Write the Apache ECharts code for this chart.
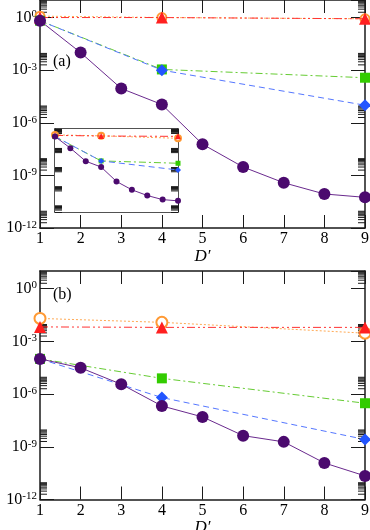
<!DOCTYPE html>
<html>
<head>
<meta charset="utf-8">
<script src="https://cdn.jsdelivr.net/npm/echarts@6/dist/echarts.min.js"></script>
<style>
html, body { margin: 0; padding: 0; background: #fff; }
#echarts { width: 370px; height: 530px; }
</style>
</head>
<body>
<div id="echarts"></div>
<script>
var dims = [1, 2, 3, 4, 5, 6, 7, 8, 9];
var dimsSparse = [1, 4, 9];
var xTicks = ['1', '2', '3', '4', '5', '6', '7', '8', '9'];
var yTickExps = [-12, -9, -6, -3, 0];

// panel (a)
var aPurple = [0.66, 1.0e-2, 9e-5, 1.1e-5, 6e-8, 3e-9, 3.8e-10, 8.7e-11, 5.6e-11];
var aRed = [1.0, 1.0, 0.85];
var aOrange = [1.2, 1.0, 0.85];
var aGreen = [0.66, 1.1e-3, 3.7e-4];
var aBlue = [0.66, 1.0e-3, 1.0e-5];

// inset of panel (a)
var iRed = [1.0, 0.8, 0.7];
var iOrange = [1.2, 0.85, 0.35];
var iGreen = [0.66, 1.0e-4, 4.3e-5];
var iBlue = [0.66, 1.0e-4, 3.8e-6];

// panel (b)
var bPurple = [1e-4, 3.1e-5, 3.6e-6, 2.1e-7, 5e-8, 4.3e-9, 1.9e-9, 1.2e-10, 2.2e-11];
var bRed = [6.6e-3, 6.2e-3, 6.2e-3];
var bOrange = [2e-2, 1.2e-2, 2.9e-3];
var bGreen = [1e-4, 7.8e-6, 3e-7];
var bBlue = [1e-4, 6.3e-7, 2.6e-9];

var serif = 'Liberation Serif';
var ink = '#1a1a1a';

var myChart = echarts.init(document.getElementById('echarts'), null, {renderer: 'canvas'});

function pairs(xs, ys) {
    return xs.map(function (x, i) { return [x, ys[i]]; });
}

// minor ticks 2..9 x 10^k above each labelled decade
var minorVals = [];
yTickExps.forEach(function (e) {
    for (var m = 2; m <= 9; m++) {
        minorVals.push([1, m * Math.pow(10, e)]);
    }
});

function xAxisFor(grid, pos, opts) {
    return {
        type: 'value', gridIndex: grid, position: pos, min: 1, max: 9, interval: 1,
        axisLine: {show: true, onZero: false, lineStyle: {color: ink, width: 1.5}},
        axisTick: {show: true, inside: true, length: opts.tick, lineStyle: {color: ink, width: 1}},
        splitLine: {show: false},
        axisLabel: opts.label ? {
            margin: 3, fontFamily: serif, fontSize: 16, color: '#000',
            formatter: function (v) { return xTicks[Math.round(v) - 1]; }
        } : {show: false},
        name: opts.name || '', nameLocation: 'middle', nameGap: opts.nameGap || 20,
        nameTextStyle: {fontFamily: serif, fontStyle: 'italic', fontSize: 17, color: '#000'}
    };
}

function yAxisFor(grid, pos, opts) {
    return {
        type: 'log', logBase: 1000, gridIndex: grid, position: pos, min: 1e-12, max: 10,
        axisLine: {show: true, onZero: false, lineStyle: {color: ink, width: 1.5}},
        axisTick: {show: true, inside: true, length: opts.tick, lineStyle: {color: ink, width: 1}},
        splitLine: {show: false},
        minorTick: {show: false},
        axisLabel: opts.label ? {
            margin: 3, showMaxLabel: false,
            formatter: function (v, i) {
                var e = v > 0 ? Math.round(Math.log(v) / Math.LN10) : yTickExps[i];
                if (yTickExps.indexOf(e) < 0) return '';
                return '{b|10}{s|' + e + '}';
            },
            rich: {
                b: {fontFamily: serif, fontSize: 16, color: '#000', lineHeight: 17},
                s: {fontFamily: serif, fontSize: 11, color: '#000', lineHeight: 17, verticalAlign: 'top'}
            }
        } : {show: false},
        name: opts.label ? '{e|ϵ}{n|N}' : '',
        nameLocation: 'middle', nameGap: 32, nameRotate: 90,
        nameTextStyle: {
            rich: {
                e: {fontFamily: serif, fontStyle: 'italic', fontSize: 17, color: '#000', lineHeight: 18},
                n: {fontFamily: serif, fontStyle: 'italic', fontSize: 10, color: '#000', lineHeight: 18, verticalAlign: 'bottom'}
            }
        }
    };
}

var styles = {
    purple: {color: '#4b0a6e', line: '#6a2a8e', symbol: 'circle', dash: 'solid', z: 10, size: 12},
    red: {color: '#ff2020', line: '#ff3333', symbol: 'triangle', dash: [8, 3, 2, 3, 2, 3], z: 4, size: 12},
    orange: {color: '#ff9933', line: '#ffaa55', symbol: 'emptyCircle', dash: [2, 2], z: 3, size: 11},
    green: {color: '#33cc00', line: '#66cc33', symbol: 'rect', dash: [7, 3, 2, 3], z: 5, size: 10},
    blue: {color: '#2255ff', line: '#5577ff', symbol: 'diamond', dash: [6, 4], z: 6, size: 12}
};

function lineSeries(key, xs, ys, axisBase, scale) {
    var s = styles[key];
    var k = scale || 1;
    return {
        type: 'line', xAxisIndex: axisBase, yAxisIndex: axisBase,
        data: pairs(xs, ys), clip: false, animation: false, z: s.z + (k < 0.7 ? 30 : 0),
        symbol: s.symbol, symbolSize: Math.round(s.size * k),
        itemStyle: {color: s.color, borderColor: s.color, borderWidth: s.symbol === 'emptyCircle' ? 1.3 : 0},
        lineStyle: {color: s.line, width: 1, type: s.dash}
    };
}

function minorSeries(axisBase, len, top) {
    return {
        type: 'custom', xAxisIndex: axisBase, yAxisIndex: axisBase, data: minorVals,
        animation: false, silent: true, z: top ? 29 : 2,
        renderItem: function (params, api) {
            var v = api.value(1);
            var l = api.coord([1, v]);
            var r = api.coord([9, v]);
            return {
                type: 'group', children: [
                    {type: 'line', shape: {x1: l[0], y1: l[1], x2: l[0] + len, y2: l[1]}, style: {stroke: ink, lineWidth: 1}},
                    {type: 'line', shape: {x1: r[0] - len, y1: r[1], x2: r[0], y2: r[1]}, style: {stroke: ink, lineWidth: 1}}
                ]
            };
        }
    };
}

// axes per grid g: index 2g = bottom x / left y, 2g+1 = top x / right y
var option = {
    backgroundColor: '#fff',
    animation: false,
    grid: [
        {left: 40, right: 5, top: 0, height: 228, containLabel: false, outerBoundsMode: 'none'},
        {left: 40, right: 5, top: 271, height: 228.5, containLabel: false, outerBoundsMode: 'none'},
        {left: 55, top: 129, width: 123, height: 83, containLabel: false, outerBoundsMode: 'none',
         show: true, backgroundColor: '#fff', borderWidth: 0, z: 20}
    ],
    xAxis: [
        xAxisFor(0, 'bottom', {tick: 13, label: true, name: 'D′', nameGap: 19}),
        xAxisFor(0, 'top', {tick: 13}),
        xAxisFor(1, 'bottom', {tick: 13, label: true, name: 'D′', nameGap: 16}),
        xAxisFor(1, 'top', {tick: 13}),
        xAxisFor(2, 'bottom', {tick: 12}),
        xAxisFor(2, 'top', {tick: 12})
    ],
    yAxis: [
        yAxisFor(0, 'left', {tick: 14, label: true}),
        yAxisFor(0, 'right', {tick: 14}),
        yAxisFor(1, 'left', {tick: 14, label: true}),
        yAxisFor(1, 'right', {tick: 14}),
        yAxisFor(2, 'left', {tick: 7}),
        yAxisFor(2, 'right', {tick: 7})
    ],
    graphic: [
        {type: 'text', left: 53, top: 54, style: {text: '(a)', font: '16px "Liberation Serif"', fill: '#000'}},
        {type: 'text', left: 53, top: 287, style: {text: '(b)', font: '16px "Liberation Serif"', fill: '#000'}}
    ],
    series: [
        minorSeries(0, 7),
        minorSeries(2, 7),
        minorSeries(4, 7, true),

        lineSeries('orange', dimsSparse, aOrange, 0, 0.8),
        lineSeries('red', dimsSparse, aRed, 0),
        lineSeries('green', dimsSparse, aGreen, 0),
        lineSeries('blue', dimsSparse, aBlue, 0),
        lineSeries('purple', dims, aPurple, 0),

        lineSeries('orange', dimsSparse, iOrange, 4, 0.5),
        lineSeries('red', dimsSparse, iRed, 4, 0.5),
        lineSeries('green', dimsSparse, iGreen, 4, 0.5),
        lineSeries('blue', dimsSparse, iBlue, 4, 0.5),
        lineSeries('purple', dims, aPurple, 4, 0.5),

        lineSeries('orange', dimsSparse, bOrange, 2),
        lineSeries('red', dimsSparse, bRed, 2),
        lineSeries('green', dimsSparse, bGreen, 2),
        lineSeries('blue', dimsSparse, bBlue, 2),
        lineSeries('purple', dims, bPurple, 2)
    ]
};

myChart.setOption(option);
</script>
</body>
</html>
